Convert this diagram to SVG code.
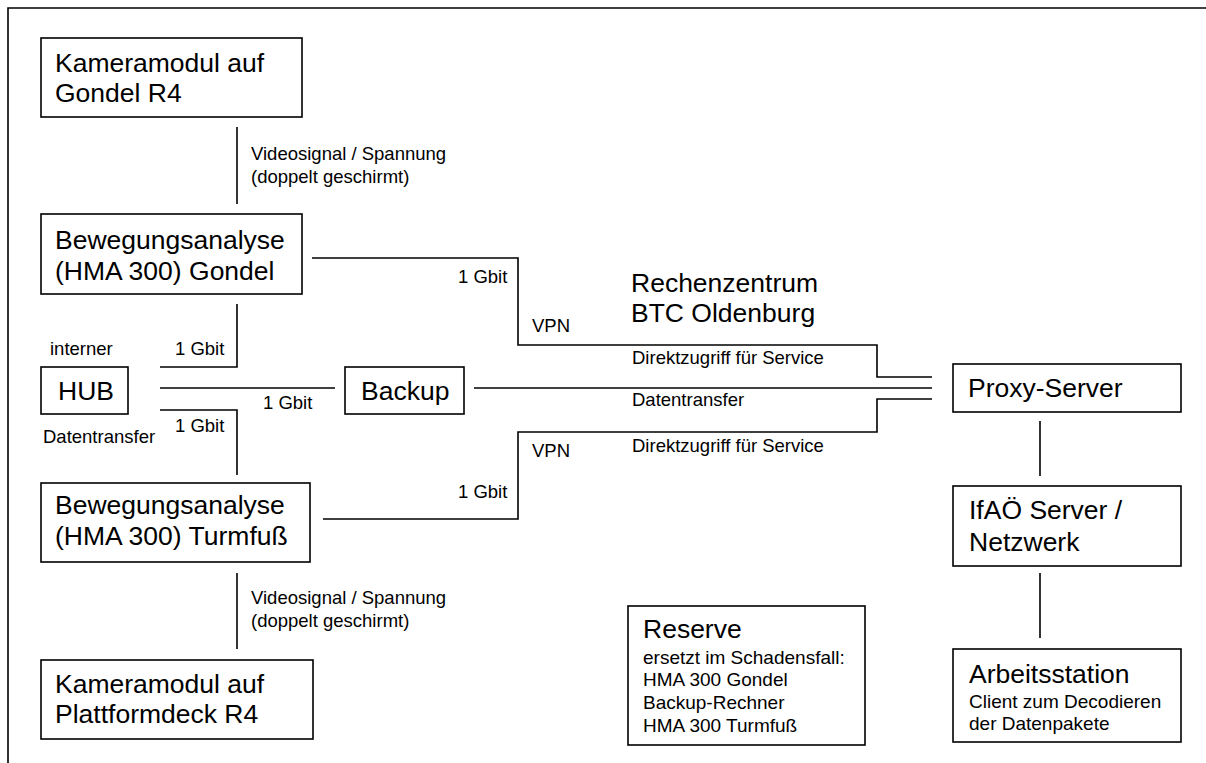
<svg xmlns="http://www.w3.org/2000/svg" width="1206" height="763" viewBox="0 0 1206 763">
<style>
rect.box{fill:#fff;stroke:#000;stroke-width:1.6}
.ln{fill:none;stroke:#000;stroke-width:1.6}
text{font-family:"Liberation Sans",Arial,sans-serif;fill:#000}
.big{font-size:26.5px}
.sm{font-size:18.5px}
.sm19{font-size:19px}
</style>
<rect width="1206" height="763" fill="#fff"/>
<path class="ln" d="M8,763 V8 H1206" stroke-width="2"/>
<g id="connectors">
<path class="ln" d="M237,127 V204"/>
<path class="ln" d="M237,573 V649"/>
<path class="ln" d="M312,258 H518 V345 H877 V377 H932"/>
<path class="ln" d="M474,388 H932"/>
<path class="ln" d="M323,519 H518 V432 H877 V399 H932"/>
<path class="ln" d="M160,367 H237 V304"/>
<path class="ln" d="M160,388 H335"/>
<path class="ln" d="M160,410 H237 V475"/>
<path class="ln" d="M1040,421 V476"/>
<path class="ln" d="M1040,573 V638"/>
<text class="sm" x="251" y="160">Videosignal / Spannung</text>
<text class="sm" x="251" y="183">(doppelt geschirmt)</text>
<text class="sm" x="251" y="604">Videosignal / Spannung</text>
<text class="sm" x="251" y="627">(doppelt geschirmt)</text>
<text class="sm" x="458" y="283">1 Gbit</text>
<text class="sm" x="458" y="498">1 Gbit</text>
<text class="sm" x="532" y="332">VPN</text>
<text class="sm" x="532" y="457">VPN</text>
<text class="sm" x="632" y="364">Direktzugriff für Service</text>
<text class="sm" x="632" y="406">Datentransfer</text>
<text class="sm" x="632" y="452">Direktzugriff für Service</text>
<text class="sm" x="50" y="355">interner</text>
<text class="sm" x="175" y="355">1 Gbit</text>
<text class="sm" x="263" y="409">1 Gbit</text>
<text class="sm" x="175" y="432">1 Gbit</text>
<text class="sm" x="43" y="443">Datentransfer</text>
</g>
<g id="kamera-gondel">
<rect class="box" x="41" y="38" width="261" height="79"/>
<text class="big" x="55" y="72">Kameramodul auf</text>
<text class="big" x="55" y="102">Gondel R4</text>
</g>
<g id="hma-gondel">
<rect class="box" x="41" y="214" width="261" height="80"/>
<text class="big" x="55" y="249">Bewegungsanalyse</text>
<text class="big" x="55" y="280">(HMA 300) Gondel</text>
</g>
<g id="hub">
<rect class="box" x="41" y="367" width="87" height="47"/>
<text class="big" x="58" y="400">HUB</text>
</g>
<g id="backup">
<rect class="box" x="345" y="367" width="119" height="47"/>
<text class="big" x="361" y="400">Backup</text>
</g>
<g id="hma-turmfuss">
<rect class="box" x="41" y="483" width="269" height="79"/>
<text class="big" x="55" y="514">Bewegungsanalyse</text>
<text class="big" x="55" y="545">(HMA 300) Turmfuß</text>
</g>
<g id="kamera-plattform">
<rect class="box" x="41" y="660" width="272" height="79"/>
<text class="big" x="55" y="693">Kameramodul auf</text>
<text class="big" x="55" y="723">Plattformdeck R4</text>
</g>
<g id="rechenzentrum">
<text class="big" x="631" y="292">Rechenzentrum</text>
<text class="big" x="631" y="322">BTC Oldenburg</text>
</g>
<g id="proxy">
<rect class="box" x="953" y="364" width="228" height="48"/>
<text class="big" x="968" y="397">Proxy-Server</text>
</g>
<g id="ifaoe">
<rect class="box" x="953" y="486" width="228" height="80"/>
<text class="big" x="969" y="519">IfAÖ Server /</text>
<text class="big" x="969" y="551">Netzwerk</text>
</g>
<g id="arbeitsstation">
<rect class="box" x="953" y="649" width="228" height="93"/>
<text class="big" x="969" y="683">Arbeitsstation</text>
<text class="sm19" x="969" y="708">Client zum Decodieren</text>
<text class="sm19" x="969" y="730">der Datenpakete</text>
</g>
<g id="reserve">
<rect class="box" x="628" y="606" width="237" height="139"/>
<text class="big" x="643" y="638">Reserve</text>
<text class="sm19" x="643" y="664">ersetzt im Schadensfall:</text>
<text class="sm19" x="643" y="686">HMA 300 Gondel</text>
<text class="sm19" x="643" y="709">Backup-Rechner</text>
<text class="sm19" x="643" y="732">HMA 300 Turmfuß</text>
</g>
</svg>
